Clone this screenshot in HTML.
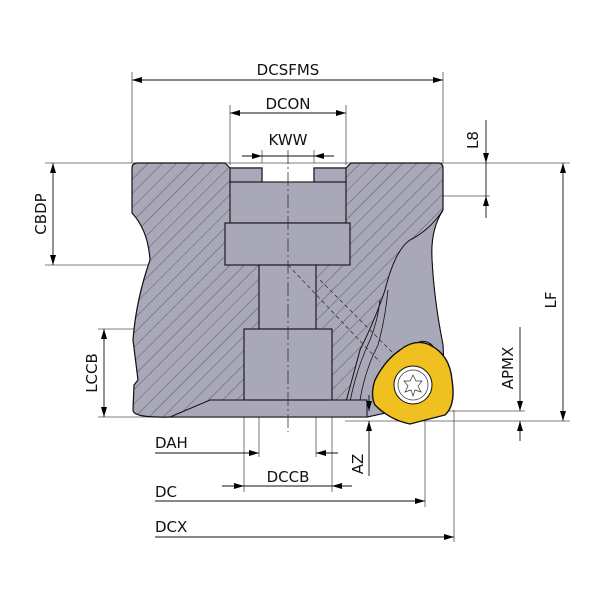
<!DOCTYPE html>
<html><head><style>body{margin:0;background:#fff}svg{display:block}text{font-family:"DejaVu Sans","Liberation Sans",sans-serif;font-size:15px;fill:#111}</style></head><body>
<svg width="600" height="600" viewBox="0 0 600 600" xmlns="http://www.w3.org/2000/svg">
<defs>
<pattern id="h" width="10" height="10" patternUnits="userSpaceOnUse" patternTransform="rotate(45)">
<rect width="10" height="10" fill="#a9a8b9"/><line x1="0" y1="0" x2="0" y2="10" stroke="#444" stroke-width="0.8"/></pattern>
<marker id="a" viewBox="0 0 10 6" refX="10" refY="3" markerWidth="10" markerHeight="6" orient="auto-start-reverse" markerUnits="userSpaceOnUse"><path d="M0,0L10,3L0,6z" fill="#000"/></marker>
</defs>
<g stroke="#555" stroke-width="0.8" fill="none">
<line x1="132" y1="72" x2="132" y2="163"/><line x1="443" y1="72" x2="443" y2="163"/>
<line x1="230" y1="105" x2="230" y2="165"/><line x1="346" y1="105" x2="346" y2="165"/>
<line x1="262" y1="150" x2="262" y2="163"/><line x1="314" y1="150" x2="314" y2="163"/>
<line x1="45" y1="163" x2="570" y2="163"/><line x1="346" y1="196" x2="490" y2="196"/>
<line x1="45" y1="265" x2="225" y2="265"/>
<line x1="98" y1="329" x2="244" y2="329"/><line x1="98" y1="417" x2="170" y2="417"/>
<line x1="345" y1="411" x2="525" y2="411"/><line x1="345" y1="421" x2="570" y2="421"/>
<line x1="244" y1="400" x2="244" y2="462"/><line x1="332" y1="400" x2="332" y2="462"/>
<line x1="259" y1="400" x2="259" y2="457"/><line x1="316" y1="400" x2="316" y2="457"/>
<line x1="244" y1="462" x2="244" y2="492"/><line x1="332" y1="462" x2="332" y2="492"/>
<line x1="425" y1="420" x2="425" y2="507"/><line x1="454" y1="410" x2="454" y2="542"/>
</g>
<path d="M138,163 L225,163 L230,168 L262,168 L262,196 L314,196 L314,168 L346,168 L351,163 L438,163 Q443,163 443,168 L443,210 Q430,230 432,260 Q434,300 443,345 L445,400 L367,417 L170,417 Q133,418 133,410 L134,385 L138,380 L133,340 Q136,300 150,260 Q148,230 132,213 L132,168 Q132,163 138,163Z" fill="url(#h)" stroke="#111" stroke-width="1.2"/>
<path d="M443,210 Q430,230 432,260 Q434,300 443,345 L445,400 L367,417 L345,405 Q352,380 360,350 Q375,320 385,290 Q395,250 410,240 Q430,230 443,210Z" fill="#a9a8b9" stroke="#111" stroke-width="1"/>
<path d="M360,400 Q365,370 378,345 Q385,320 388,290" fill="none" stroke="#111" stroke-width="0.8"/>
<path d="M350,402 Q356,370 370,340 Q378,320 380,300" fill="none" stroke="#111" stroke-width="0.8"/>
<path d="M170,417 L210,400 L367,400 L367,417Z" fill="#a9a8b9" stroke="#111" stroke-width="1"/>
<g fill="#a9a8b9" stroke="#111" stroke-width="1.1">
<rect x="230" y="182" width="116" height="41"/>
<rect x="230" y="168" width="32" height="14"/><rect x="314" y="168" width="32" height="14"/>
<rect x="225" y="223" width="125" height="42"/>
<rect x="259" y="265" width="57" height="64"/>
<rect x="244" y="329" width="88" height="71"/>
</g>
<line x1="288" y1="150" x2="288" y2="432" stroke="#333" stroke-width="0.8" stroke-dasharray="14,3,2,3"/>
<path d="M288,265 L380,362 M320,280 L395,355" stroke="#333" stroke-width="0.8" stroke-dasharray="4,3" fill="none"/>
<path d="M408,352 Q420,335 432,345 L440,360 Z" fill="#a9a8b9" stroke="#111"/>
<path d="M400,350 Q415,338 430,345 Q450,355 452,380 Q456,405 445,415 Q425,420 410,424 Q390,420 375,405 Q370,395 375,380 Q385,360 400,350Z" fill="#f0c020" stroke="#111" stroke-width="1.4"/>
<circle cx="413" cy="385" r="19" fill="#fff" stroke="#111"/>
<circle cx="413" cy="385" r="15" fill="none" stroke="#333" stroke-width="0.7"/>
<path d="M413,375 L416,381 L422,381 L418,386 L421,392 L415,390 L413,396 L411,390 L405,392 L408,386 L404,381 L410,381Z" fill="none" stroke="#333" stroke-width="0.7"/>
<g stroke="#111" stroke-width="0.9" fill="none">
<line x1="132" y1="80" x2="443" y2="80" marker-start="url(#a)" marker-end="url(#a)"/>
<line x1="230" y1="113" x2="346" y2="113" marker-start="url(#a)" marker-end="url(#a)"/>
<line x1="242" y1="156" x2="262" y2="156" marker-end="url(#a)"/><line x1="334" y1="156" x2="314" y2="156" marker-end="url(#a)"/><line x1="262" y1="156" x2="314" y2="156"/>
<line x1="486" y1="120" x2="486" y2="163" marker-end="url(#a)"/><line x1="486" y1="218" x2="486" y2="196" marker-end="url(#a)"/><line x1="486" y1="163" x2="486" y2="196"/>
<line x1="53" y1="163" x2="53" y2="265" marker-start="url(#a)" marker-end="url(#a)"/>
<line x1="104" y1="329" x2="104" y2="417" marker-start="url(#a)" marker-end="url(#a)"/>
<line x1="563" y1="163" x2="563" y2="421" marker-start="url(#a)" marker-end="url(#a)"/>
<line x1="520" y1="327" x2="520" y2="411" marker-end="url(#a)"/><line x1="520" y1="441" x2="520" y2="421" marker-end="url(#a)"/>
<line x1="155" y1="453" x2="259" y2="453" marker-end="url(#a)"/><line x1="338" y1="453" x2="316" y2="453" marker-end="url(#a)"/>
<line x1="222" y1="486" x2="244" y2="486" marker-end="url(#a)"/><line x1="352" y1="486" x2="332" y2="486" marker-end="url(#a)"/><line x1="244" y1="486" x2="332" y2="486"/>
<line x1="155" y1="501" x2="425" y2="501" marker-end="url(#a)"/>
<line x1="155" y1="537" x2="454" y2="537" marker-end="url(#a)"/>
<line x1="369" y1="476" x2="369" y2="421" marker-end="url(#a)"/><line x1="369" y1="395" x2="369" y2="411" marker-end="url(#a)"/>
</g>
<text x="288" y="75" text-anchor="middle">DCSFMS</text>
<text x="288" y="109" text-anchor="middle">DCON</text>
<text x="288" y="145" text-anchor="middle">KWW</text>
<text x="155" y="448">DAH</text>
<text x="288" y="482" text-anchor="middle">DCCB</text>
<text x="155" y="497">DC</text>
<text x="155" y="532">DCX</text>
<text transform="translate(46,214) rotate(-90)" text-anchor="middle">CBDP</text>
<text transform="translate(97,373) rotate(-90)" text-anchor="middle">LCCB</text>
<text transform="translate(478,140) rotate(-90)" text-anchor="middle">L8</text>
<text transform="translate(556,300) rotate(-90)" text-anchor="middle">LF</text>
<text transform="translate(513,368) rotate(-90)" text-anchor="middle">APMX</text>
<text transform="translate(363,464) rotate(-90)" text-anchor="middle">AZ</text>
</svg>
</body></html>
